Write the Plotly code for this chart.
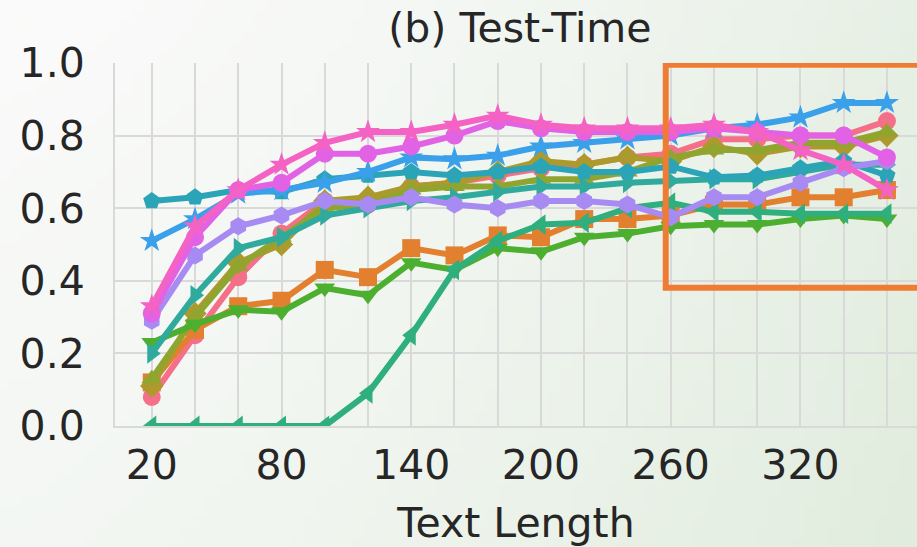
import base64, struct, zlib
import plotly.graph_objects as go

# ---------------- data ----------------
text_length = [20, 40, 60, 80, 100, 120, 140, 160, 180, 200, 220, 240, 260, 280, 300, 320, 340, 360]
x_tick_labels = ["20", "80", "140", "200", "260", "320"]
y_tick_values = [0.0, 0.2, 0.4, 0.6, 0.8, 1.0]

s_red    = [0.08, 0.25, 0.41, 0.53, 0.62, 0.61, 0.66, 0.67, 0.69, 0.71, 0.72, 0.74, 0.75, 0.79, 0.79, 0.80, 0.80, 0.84]
s_orange = [0.12, 0.265, 0.33, 0.345, 0.43, 0.41, 0.49, 0.47, 0.525, 0.52, 0.57, 0.57, 0.58, 0.61, 0.61, 0.63, 0.63, 0.65]
s_olive  = [0.11, 0.31, 0.45, 0.50, 0.62, 0.63, 0.66, 0.67, 0.70, 0.73, 0.72, 0.74, 0.73, 0.77, 0.75, 0.77, 0.77, 0.80]
s_lime   = [0.13, 0.30, 0.44, 0.52, 0.60, 0.61, 0.65, 0.66, 0.66, 0.68, 0.68, 0.70, 0.74, 0.76, 0.76, 0.78, 0.78, 0.81]
s_green  = [0.23, 0.28, 0.32, 0.315, 0.38, 0.36, 0.45, 0.43, 0.49, 0.48, 0.52, 0.53, 0.55, 0.555, 0.555, 0.57, 0.58, 0.57]
s_jade   = [0.0, 0.0, 0.0, 0.0, 0.0, 0.09, 0.25, 0.43, 0.51, 0.555, 0.56, 0.60, 0.615, 0.59, 0.59, 0.585, 0.585, 0.585]
s_teal   = [0.20, 0.36, 0.49, 0.52, 0.58, 0.60, 0.62, 0.63, 0.645, 0.66, 0.66, 0.67, 0.675, 0.68, 0.68, 0.70, 0.72, 0.72]
s_cyan   = [0.62, 0.63, 0.65, 0.645, 0.68, 0.69, 0.70, 0.69, 0.70, 0.715, 0.70, 0.70, 0.715, 0.685, 0.69, 0.71, 0.73, 0.69]
s_blue   = [0.51, 0.57, 0.64, 0.65, 0.67, 0.70, 0.74, 0.735, 0.745, 0.77, 0.78, 0.79, 0.80, 0.82, 0.83, 0.85, 0.89, 0.89]
s_purple = [0.29, 0.47, 0.55, 0.58, 0.62, 0.61, 0.63, 0.61, 0.60, 0.62, 0.62, 0.61, 0.575, 0.63, 0.63, 0.67, 0.71, 0.73]
s_violet = [0.31, 0.52, 0.65, 0.67, 0.75, 0.75, 0.77, 0.80, 0.84, 0.82, 0.81, 0.81, 0.81, 0.82, 0.81, 0.80, 0.80, 0.74]
s_pink   = [0.33, 0.55, 0.65, 0.72, 0.78, 0.81, 0.81, 0.83, 0.855, 0.83, 0.82, 0.82, 0.82, 0.83, 0.81, 0.76, 0.72, 0.65]

series = [
    (s_red,    "#f47089", "circle"),
    (s_orange, "#e3802f", "square"),
    (s_olive,  "#ad9a2d", "diamond"),
    (s_lime,   "#8fa52f", "triangle-up"),
    (s_green,  "#4caf30", "triangle-down"),
    (s_jade,   "#2fae7e", "triangle-left"),
    (s_teal,   "#31aa9e", "triangle-right"),
    (s_cyan,   "#2ba4b8", "pentagon"),
    (s_blue,   "#3aa0ea", "star"),
    (s_purple, "#a78bf3", "hexagon"),
    (s_violet, "#e262e6", "circle"),
    (s_pink,   "#f462c4", "star"),
]

# ---------------- background gradient (PNG data URI) ----------------
def gradient_png(w, h):
    raw = bytearray()
    c0 = (251, 251, 251)
    c1 = (222, 235, 219)
    for j in range(h):
        raw.append(0)
        for i in range(w):
            t = (i / (w - 1)) ** 1.6 * 0.85 + (j / (h - 1)) * 0.25
            t = min(t, 1.0)
            for k in range(3):
                raw.append(int(c0[k] + (c1[k] - c0[k]) * t))
    def chunk(tag, data):
        return struct.pack(">I", len(data)) + tag + data + struct.pack(">I", zlib.crc32(tag + data) & 0xffffffff)
    png = b"\x89PNG\r\n\x1a\n" + chunk(b"IHDR", struct.pack(">IIBBBBB", w, h, 8, 2, 0, 0, 0))
    png += chunk(b"IDAT", zlib.compress(bytes(raw), 9)) + chunk(b"IEND", b"")
    return "data:image/png;base64," + base64.b64encode(png).decode()

fig = go.Figure()
for ys, color, sym in series:
    fig.add_trace(go.Scatter(
        x=text_length, y=ys, mode="lines+markers",
        line=dict(color=color, width=6),
        marker=dict(symbol=sym, size=18, color=color, line=dict(width=0)),
        showlegend=False,
    ))

font_family = "DejaVu Sans"
fig.update_layout(
    width=917, height=547,
    margin=dict(l=115, r=0, t=63, b=121, autoexpand=False),
    paper_bgcolor="#f6f7f6",
    plot_bgcolor="rgba(255,255,255,0.3)",
    font=dict(family=font_family, size=41, color="#262626"),
    title=dict(text="(b) Test-Time", x=0.567, xanchor="center", y=1 - 28 / 547, yanchor="middle",
               yref="container", font=dict(size=41, color="#262626")),
    images=[dict(source=gradient_png(92, 55), xref="paper", yref="paper", x=-0.2, y=1.25,
                 sizex=1.4, sizey=1.6, sizing="stretch", layer="below", xanchor="left", yanchor="top")],
    shapes=[dict(type="rect", xref="x", yref="y", x0=257.7, x1=390, y0=0.381, y1=0.995,
                 line=dict(color="#ee7d33", width=6), fillcolor="rgba(0,0,0,0)", layer="above")],
)
fig.update_xaxes(
    range=[3, 373.9], automargin=False,
    tickmode="array", tickvals=text_length,
    ticktext=[str(v) if str(v) in x_tick_labels else "" for v in text_length],
    showgrid=True, gridcolor="#d9d9d9", gridwidth=2,
    zeroline=False, showline=True, linecolor="#d9d9d9", linewidth=2,
    ticks="", ticklabelstandoff=2,
    title=dict(text="Text Length", font=dict(size=41, color="#262626"), standoff=20),
)
fig.update_yaxes(
    range=[0, 1], automargin=False,
    tickmode="array", tickvals=y_tick_values,
    ticktext=["%.1f" % v for v in y_tick_values],
    showgrid=True, gridcolor="#d9d9d9", gridwidth=2,
    zeroline=False, showline=True, linecolor="#d9d9d9", linewidth=2, mirror=False,
    ticks="", ticklabelstandoff=20,
)
fig.write_html("out.html", config={"displayModeBar": False},
               post_script="document.body.style.margin='0px';document.body.style.overflow='hidden';")
